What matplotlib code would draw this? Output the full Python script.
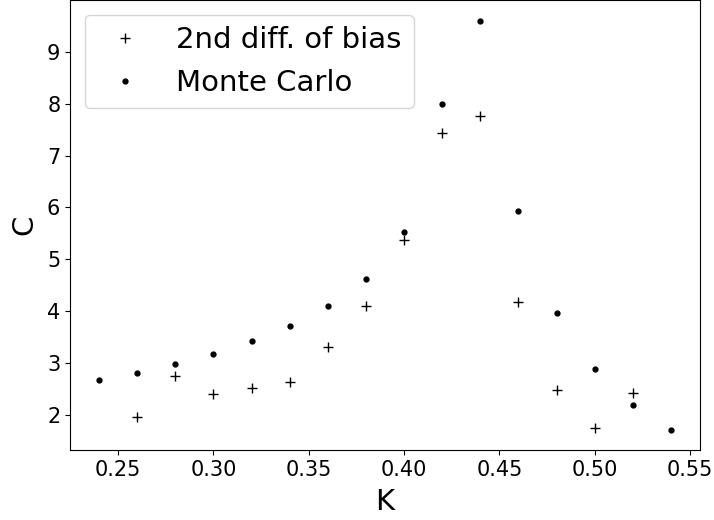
import numpy as np
import matplotlib
matplotlib.use('Agg')
import matplotlib.pyplot as plt

# coupling values and specific heat estimates
K_mc = [0.24, 0.26, 0.28, 0.30, 0.32, 0.34, 0.36, 0.38, 0.40, 0.42, 0.44, 0.46, 0.48, 0.50, 0.52, 0.54]
C_mc = [2.67, 2.81, 2.98, 3.18, 3.43, 3.72, 4.11, 4.63, 5.52, 8.00, 9.60, 5.93, 3.97, 2.88, 2.19, 1.71]

K_bias = [0.26, 0.28, 0.30, 0.32, 0.34, 0.36, 0.38, 0.40, 0.42, 0.44, 0.46, 0.48, 0.50, 0.52]
C_bias = [1.96, 2.75, 2.40, 2.52, 2.64, 3.32, 4.10, 5.38, 7.43, 7.76, 4.18, 2.49, 1.75, 2.43]

fig = plt.figure(figsize=(7.14, 5.2), dpi=100)
ax = fig.add_axes([70/714, 1 - 450/520, 630/714, 450/520])

ax.plot(K_bias, C_bias, '+', color='k', markersize=7, label='2nd diff. of bias')
ax.plot(K_mc, C_mc, '.', color='k', markersize=7, label='Monte Carlo')

ax.set_xlim(0.2248, 0.5552)
ax.set_ylim(1.325, 10.0)
ax.set_xticks(np.arange(0.25, 0.56, 0.05))
ax.set_yticks(range(2, 10))
ax.tick_params(labelsize=15)
ax.set_xlabel('K', fontsize=21, labelpad=6)
ax.set_ylabel('C', fontsize=21, labelpad=6)
ax.legend(loc='upper left', fontsize=21, handletextpad=0.75, borderaxespad=0.5)

fig.savefig('out.png', dpi=100)
